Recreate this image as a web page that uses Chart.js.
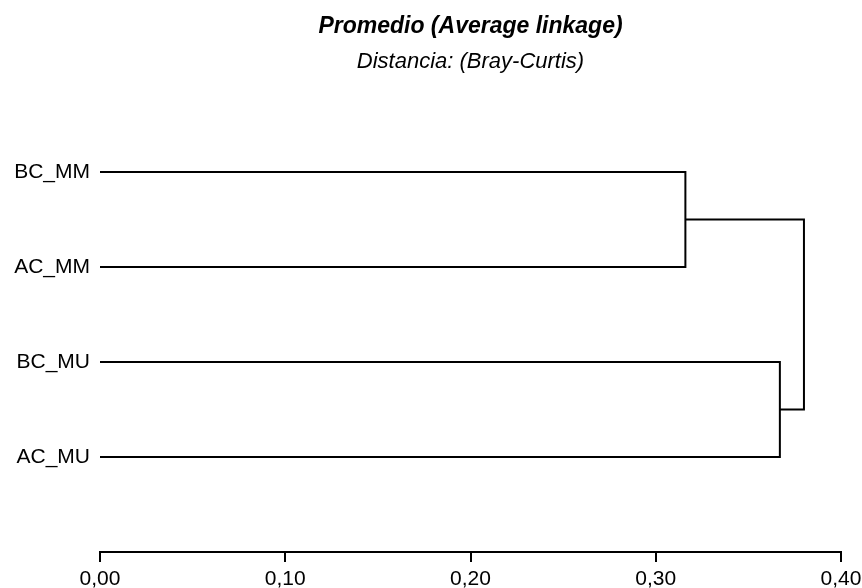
<!DOCTYPE html>
<html>
<head>
<meta charset="utf-8">
<script src="https://cdn.jsdelivr.net/npm/chart.js@4/dist/chart.umd.min.js"></script>
<style>
  html, body { margin: 0; padding: 0; background: #fff; }
  #wrap { width: 862px; height: 588px; }
</style>
</head>
<body>
<div id="wrap"><canvas id="chart"></canvas></div>
<script>
// leaves, top to bottom
const leaves = ['BC_MM', 'AC_MM', 'BC_MU', 'AC_MU'];
// merges: child a, child b (index >= leaves.length means an earlier merge), distance
const mergeA = [0, 2, 4];
const mergeB = [1, 3, 5];
const mergeDist = [0.316, 0.367, 0.380];
const xTicks = [0, 0.1, 0.2, 0.3, 0.4];
const titleText = 'Promedio (Average linkage)';
const subtitleText = 'Distancia: (Bray-Curtis)';

// node positions in data units
let nodes = leaves.map((l, i) => ({ x: 0, y: i + 1 }));
let datasets = [];
for (let i = 0; i < mergeDist.length; i++) {
    let a = nodes[mergeA[i]];
    let b = nodes[mergeB[i]];
    let h = mergeDist[i];
    datasets.push({
        data: [
            { x: a.x, y: a.y },
            { x: h, y: a.y },
            { x: h, y: b.y },
            { x: b.x, y: b.y }
        ],
        showLine: true,
        borderColor: '#000',
        borderWidth: 2,
        pointRadius: 0,
        tension: 0,
        fill: false
    });
    nodes.push({ x: h, y: (a.y + b.y) / 2 });
}

const fontFamily = '"Liberation Sans", Arial, sans-serif';
Chart.defaults.font.family = fontFamily;
Chart.defaults.color = '#000';

// titles centred over the plot area, not the whole canvas
const centredTitles = {
    id: 'centredTitles',
    afterDraw(chart) {
        const ctx = chart.ctx;
        const area = chart.chartArea;
        const cx = (area.left + area.right) / 2;
        ctx.save();
        ctx.fillStyle = '#000';
        ctx.textAlign = 'center';
        ctx.textBaseline = 'middle';
        ctx.font = 'italic bold 23px ' + fontFamily;
        ctx.fillText(titleText, cx, 27);
        ctx.font = 'italic 22px ' + fontFamily;
        ctx.fillText(subtitleText, cx, 62);
        ctx.restore();
    }
};

new Chart(document.getElementById('chart'), {
    type: 'scatter',
    data: { datasets: datasets },
    plugins: [centredTitles],
    options: {
        responsive: true,
        maintainAspectRatio: false,
        animation: false,
        layout: { padding: { left: 0, right: 0, top: 77, bottom: 0 } },
        plugins: {
            legend: { display: false },
            tooltip: { enabled: false },
            title: { display: false }
        },
        scales: {
            x: {
                type: 'linear',
                min: 0,
                max: 0.4,
                afterBuildTicks: s => { s.ticks = xTicks.map(v => ({ value: v })); },
                afterFit: s => { s.height = 36; s.paddingRight = 21; },
                grid: { drawOnChartArea: false, drawTicks: true, tickLength: 10, tickColor: '#000', lineWidth: 2 },
                border: { display: true, color: '#000', width: 2 },
                ticks: {
                    font: { size: 21 },
                    padding: 5,
                    maxRotation: 0,
                    callback: v => v.toFixed(2).replace('.', ',')
                }
            },
            y: {
                type: 'linear',
                min: 0,
                max: 5,
                reverse: true,
                afterBuildTicks: s => { s.ticks = leaves.map((l, i) => ({ value: i + 1 })); },
                afterFit: s => { s.width = 100; },
                grid: { display: false },
                border: { display: false },
                ticks: {
                    font: { size: 21 },
                    padding: 2,
                    callback: v => leaves[v - 1]
                }
            }
        }
    }
});
</script>
</body>
</html>
